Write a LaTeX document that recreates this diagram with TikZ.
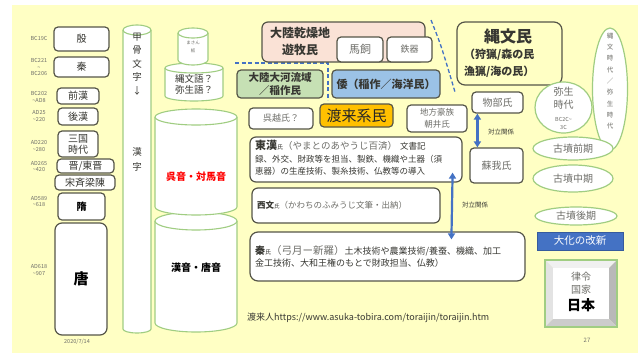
\documentclass[tikz,border=0pt]{standalone}
\usepackage{fontspec}
\setmainfont{Noto Sans CJK JP}
\usepackage{graphicx}
\usetikzlibrary{shapes.geometric,arrows.meta}
\newcommand\fz[2]{\fontsize{#1}{#2}\selectfont}
\definecolor{bgy}{RGB}{255,255,196}
\definecolor{bord}{RGB}{85,85,72}
\definecolor{egreen}{RGB}{160,205,130}
\definecolor{pinkf}{RGB}{250,226,214}
\definecolor{greenf}{RGB}{198,224,180}
\definecolor{bluef}{RGB}{155,194,230}
\definecolor{orangef}{RGB}{255,192,0}
\definecolor{arrowblue}{RGB}{68,114,196}
\definecolor{txt}{RGB}{55,55,50}
\definecolor{gtxt}{RGB}{110,110,105}
\begin{document}
\begin{tikzpicture}[x=1pt,y=-1pt,
  box/.style={draw=bord, line width=1.2pt, rounded corners=4pt, fill=white, inner sep=0pt, align=center, text=txt},
  dt/.style={text=gtxt, align=center, font=\fz{5.5}{6.5}, inner sep=0pt},
  eln/.style={ellipse, draw=egreen, line width=1.2pt, fill=white, inner sep=0pt, align=center, text=gtxt},
  cyl/.style={draw=egreen, line width=1.1pt, fill=white},
  dsh/.style={draw=arrowblue, line width=1.3pt, dash pattern=on 4pt off 2.5pt},
  barrow/.style={draw=arrowblue, line width=2.2pt, {Triangle[width=7pt,length=6pt]}-{Triangle[width=7pt,length=6pt]}},
  lbl/.style={inner sep=0pt, align=center}
]
\useasboundingbox (0,0) rectangle (640,354);
\fill[bgy] (12,5) rectangle (638,353);

% ---- column 1: dynasties
\node[box, minimum width=55, minimum height=24, font=\fz{10}{12}] (yin) at (81.5,39) {殷};
\node[box, minimum width=55, minimum height=20, font=\fz{10}{12}] (qin) at (81.5,67) {秦};
\node[box, minimum width=42, minimum height=16, font=\fz{10}{12}] (qhan) at (78,96) {前漢};
\node[box, minimum width=40, minimum height=17, font=\fz{10}{12}] (hhan) at (78,116.5) {後漢};
\node[box, minimum width=40, minimum height=26, font=\fz{10}{11}] (sang) at (78,144) {三国\\時代};
\node[box, minimum width=57, minimum height=14, font=\fz{10}{12}] (jin) at (85.5,166) {晋/東晋};
\node[box, minimum width=60, minimum height=15, font=\fz{10}{12}] (nanc) at (85,182.5) {宋斉梁陳};
\node[box, minimum width=47, minimum height=27, font=\bfseries\fz{10}{12}, text=black] (sui) at (81.5,206.5) {隋};
\node[box, minimum width=52, minimum height=112, rounded corners=7pt, font=\bfseries\fz{15}{16}, text=black] (tang) at (81,279) {唐};

\node[dt] (d1) at (39,38) {BC19C};
\node[dt] (d2) at (39,67) {BC221\\\textasciitilde\\BC206};
\node[dt] (d3) at (39,97) {BC202\\\textasciitilde AD8};
\node[dt] (d4) at (39,116) {AD25\\\textasciitilde 220};
\node[dt] (d5) at (39,146) {AD220\\\textasciitilde 280};
\node[dt] (d6) at (39,166.5) {AD265\\\textasciitilde 420};
\node[dt] (d7) at (39,201.5) {AD589\\\textasciitilde 618};
\node[dt] (d8) at (39,270) {AD618\\\textasciitilde 907};
\node[lbl, text=gtxt, font=\fz{5.5}{6}] (date) at (77,342) {2020/7/14};

% ---- column 2: script cylinder
\path[cyl] (123,30) -- (123,329) arc[start angle=180,end angle=0,x radius=14,y radius=4] -- (151,30);
\draw[cyl] (137,30) ellipse[x radius=14,y radius=5];
\node[lbl, text=txt, font=\fz{9.5}{13.5}] (kokotsu) at (137,64) {甲\\骨\\文\\字\\↓};
\node[lbl, text=txt, font=\fz{9.5}{15}] (kanji) at (137,159) {漢\\字};

% ---- column 3: language cylinders
\path[cyl] (165,68) -- (165,96) arc[start angle=180,end angle=0,x radius=29,y radius=5] -- (223,68);
\draw[cyl] (194,68) ellipse[x radius=29,y radius=5];
\path[cyl] (178,33) -- (178,60) arc[start angle=180,end angle=0,x radius=15,y radius=5] -- (208,33);
\draw[cyl] (193,33) ellipse[x radius=15,y radius=5];
\node[lbl, text=gtxt, font=\fz{4.5}{8}] (mokkan) at (193,47) {まさん\\板};
\node[lbl, text=txt, font=\fz{9.5}{11.5}] (jomongo) at (194,84.5) {縄文語？\\弥生語？};

\path[cyl] (155,221) -- (155,323) arc[start angle=180,end angle=0,x radius=41,y radius=9] -- (237,221);
\draw[cyl] (196,221) ellipse[x radius=41,y radius=9];
\path[cyl] (155,117) -- (155,207) arc[start angle=180,end angle=0,x radius=41,y radius=8] -- (237,117);
\draw[cyl] (196,117) ellipse[x radius=41,y radius=8];
\node[lbl, text=red, font=\bfseries\fz{10}{11}] (goon) at (196,177) {呉音・対馬音};
\node[lbl, text=black, font=\bfseries\fz{10}{11}] (kanon) at (196,268) {漢音・唐音};

% ---- dashed boundaries
\draw[dsh] (235,63) -- (328,63) -- (328,100);
\draw[dsh] (431,20) .. controls (441,45) .. (455,92);

% ---- peoples
\node[box, fill=pinkf, minimum width=163, minimum height=40, rounded corners=6pt] (tairiku) at (343.5,42) {};
\node[lbl, font=\bfseries\fz{12}{17}, text=txt] (tairikut) at (300,41.5) {大陸乾燥地\\遊牧民};
\node[box, minimum width=46, minimum height=25, font=\fz{11}{12}, text=gtxt] (umakai) at (360,49.5) {馬飼};
\node[box, minimum width=45, minimum height=25, font=\fz{9}{10}, text=gtxt] (tekki) at (409.5,49.5) {鉄器};

\node[box, fill=greenf, minimum width=86, minimum height=28, font=\bfseries\fz{10.5}{12.5}] (taiga) at (280,84) {大陸大河流域\\／稲作民};
\node[box, fill=bluef, minimum width=108, minimum height=28, font=\bfseries\fz{11}{12}] (wa) at (386,84) {倭（稲作／海洋民）};

\node[box, fill=none, minimum width=105, minimum height=63, rounded corners=8pt] (jomon) at (509.5,53.5) {};
\node[lbl, font=\bfseries\fz{16}{18}, text=txt] (jomont) at (508,36) {縄文民};
\node[lbl, font=\bfseries\fz{11}{16.5}, text=txt, align=left, anchor=west] (jomons) at (464,63.5) {（狩猟/森の民\\漁猟/海の民）};

\node[eln, minimum width=35, minimum height=122] (jidai) at (610,89) {};
\node[lbl, text=gtxt, font=\fz{6.5}{11.3}] (jidait) at (610,81) {縄\\文\\時\\代\\／\\弥\\生\\時\\代};

\node[box, fill=orangef, minimum width=73, minimum height=23, font=\fz{15}{16}, text=black!85] (torai) at (356.5,115.5) {渡来系民};
\node[box, minimum width=64, minimum height=21, font=\fz{9}{10}, text=gtxt] (goetsu) at (281,118.5) {呉越氏？};
\node[box, minimum width=60, minimum height=27, font=\fz{8.5}{12}, text=gtxt] (chiho) at (437,118.5) {地方豪族\\朝井氏};

\node[box, minimum width=212, minimum height=45, rounded corners=6pt] (yamato) at (356,159.5) {};
\node[lbl, anchor=north west, align=left, text=txt, font=\fz{8.5}{12.5}] (yamatot) at (255,140) {{\bfseries\fz{11}{12.5}東漢}{\fz{6}{12.5}氏}{\color{gtxt}\fz{9.5}{12.5}（やまとのあやうじ百済）}\hspace{3pt}文書記\\録、外交、財政等を担当、製鉄、機織や土器（須\\恵器）の生産技術、製糸技術、仏教等の導入};

\node[box, minimum width=188, minimum height=35, rounded corners=6pt] (kawachi) at (346,205.5) {};
\node[lbl, anchor=west, text=txt] (kawachit) at (257,205) {{\bfseries\fz{8.5}{10}西文}{\fz{5.5}{10}氏}{\color{gtxt}\fz{8.5}{10}（かわちのふみうじ文筆・出納）}};

\node[box, minimum width=275, minimum height=49, rounded corners=8pt] (hata) at (387.5,256.5) {};
\node[lbl, anchor=north west, align=left, text=txt, font=\fz{9}{12.5}] (hatat) at (255,245) {{\bfseries\fz{10}{12.5}秦}{\fz{6}{12.5}氏}{\color{gtxt}\fz{10.5}{12.5}（弓月ー新羅）}土木技術や農業技術/養蚕、機織、加工\\金工技術、大和王権のもとで財政担当、仏教）};

\node[box, minimum width=51, minimum height=21, font=\fz{10}{11}, text=gtxt] (mono) at (497.5,102.5) {物部氏};
\node[box, minimum width=53, minimum height=35, font=\fz{10}{11}, text=gtxt] (soga) at (496.5,165.5) {蘇我氏};

\draw[barrow] ([xshift=6pt]mono.south west) -- ([xshift=8pt]soga.north west);
\draw[barrow] ([xshift=-10pt,yshift=10pt]yamato.south east) -- ([xshift=202pt,yshift=-8pt]hata.north west);
\node[lbl, text=txt, font=\fz{6.5}{7}] (tairitsu1) at (501,132) {対立関係};
\node[lbl, text=txt, font=\fz{6.5}{7}] (tairitsu2) at (475,205) {対立関係};

% ---- periods
\node[eln, minimum width=57, minimum height=51] (yayoi) at (563.5,107.5) {};
\node[lbl, text=gtxt, font=\fz{10}{13}] (yayoit) at (563.5,98) {弥生\\時代};
\node[lbl, text=gtxt, font=\fz{5.5}{8}] (yayoid) at (563.5,123) {BC2C\textasciitilde\\3C};
\node[eln, minimum width=80, minimum height=23, font=\fz{10}{11}] (kofun1) at (573,148.5) {古墳前期};
\node[eln, minimum width=80, minimum height=27, font=\fz{10}{11}] (kofun2) at (573,178.5) {古墳中期};
\node[eln, minimum width=82, minimum height=18, font=\fz{10}{11}] (kofun3) at (576,216) {古墳後期};
\node[fill=arrowblue, draw=arrowblue!80!black, minimum width=86, minimum height=18, inner sep=0pt, text=white, font=\fz{10.5}{11}] (taika) at (580,241) {大化の改新};

\fill[gray!12] (545,260) -- (617,260) -- (609,268) -- (553,268) -- cycle;
\fill[gray!22] (545,260) -- (553,268) -- (553,319) -- (545,327) -- cycle;
\fill[gray!55] (617,260) -- (617,327) -- (609,319) -- (609,268) -- cycle;
\fill[gray!40] (545,327) -- (617,327) -- (609,319) -- (553,319) -- cycle;
\fill[white] (553,268) rectangle (609,319);
\node[draw=egreen, line width=1.3pt, minimum width=72, minimum height=67, inner sep=0pt] (ritsu) at (581,293.5) {};
\node[lbl, text=gtxt, font=\fz{10}{13.5}] (ritsut) at (581,283) {律令\\国家};
\node[lbl, text=black, font=\bfseries\fz{14}{15}] (nihon) at (581,305) {日本};

\node[lbl, text=gtxt, font=\fz{6}{7}] (page) at (587,340) {27};
\node[lbl, anchor=west, text=txt, font=\fz{9}{10}] (url) at (247,318) {渡来人https://www.asuka-tobira.com/toraijin/toraijin.htm};
\end{tikzpicture}
\end{document}
